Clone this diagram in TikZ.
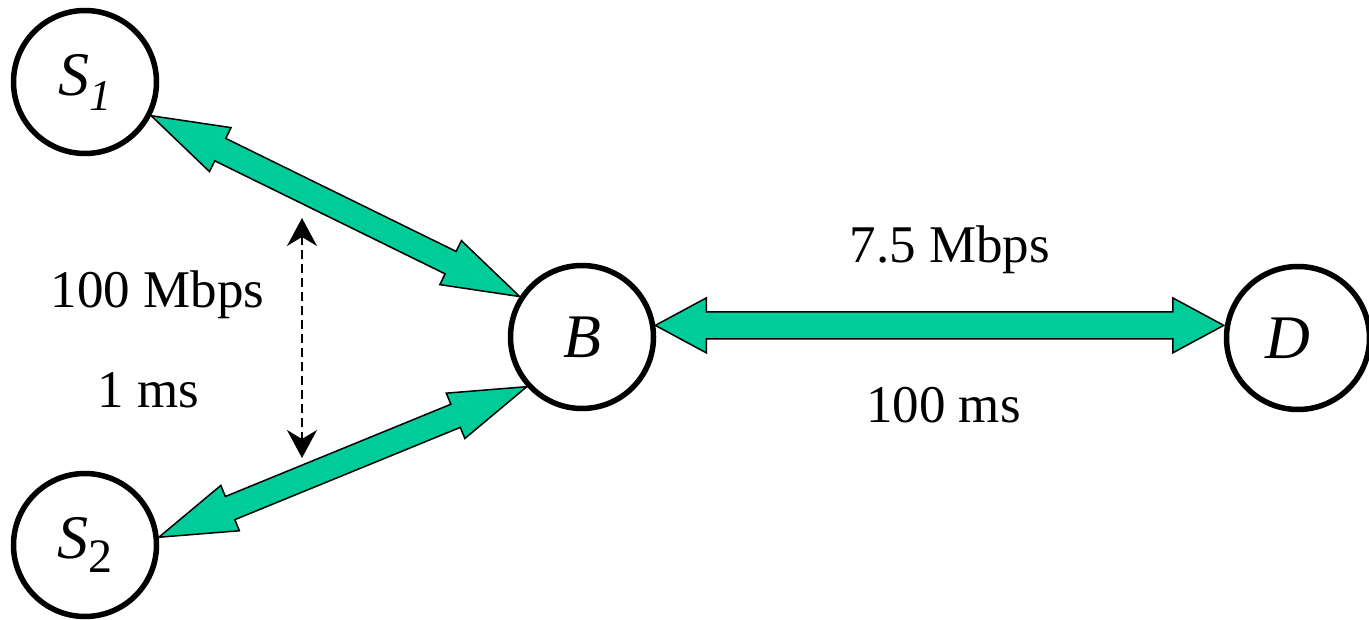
\documentclass[tikz,border=0pt]{standalone}
\usepackage{fontspec}
\setmainfont{Liberation Serif}
\usetikzlibrary{calc,arrows.meta}
\definecolor{linkgreen}{RGB}{0,204,153}
\tikzset{
  host/.style={circle, draw, fill=white, line width=5.5pt, minimum size=143pt,
    inner sep=0pt, font=\fontsize{62}{62}\selectfont\itshape},
  fatlink/.style={fill=linkgreen, draw=black, line width=1.5pt, line join=miter},
  spanarrow/.style={line width=2pt, dash pattern=on 9pt off 5pt,
    {Stealth[length=28pt,width=30pt,inset=9pt]}-{Stealth[length=28pt,width=30pt,inset=9pt]}},
  lbl/.style={anchor=base, inner sep=0pt, font=\fontsize{53}{53}\selectfont},
}
% double-headed block arrow: #1,#2 tips, #3 head length, #4 head half-width, #5 shaft half-width
\newcommand\linkarrow[5]{%
  \coordinate (ha) at ($(#1)!#3!(#2)$);
  \coordinate (hb) at ($(#2)!#3!(#1)$);
  \draw[fatlink] (#1) -- ($(ha)!#4!90:(#2)$) -- ($(ha)!#5!90:(#2)$)
    -- ($(hb)!#5!-90:(#1)$) -- ($(hb)!#4!-90:(#1)$) -- (#2)
    -- ($(hb)!#4!90:(#1)$) -- ($(hb)!#5!90:(#1)$)
    -- ($(ha)!#5!-90:(#2)$) -- ($(ha)!#4!-90:(#2)$) -- cycle;
}
\begin{document}
\begin{tikzpicture}[x=1pt,y=-1pt]
\useasboundingbox (0,0) rectangle (1369,620);

% hosts
\node[host] (S1) at (85,82) {S\raisebox{-15pt}{\fontsize{44}{44}\selectfont 1}};
\node[host] (S2) at (85,545) {S\raisebox{-14pt}{\fontsize{48}{48}\selectfont\upshape 2}};
\node[host] (B) at (582,337) {B};
\node[host] (D) at (1298,338) {D\hspace*{20pt}};

% link end points on the circles
\coordinate (s1b) at (S1.-27.6);
\coordinate (bs1) at (B.147.4);
\coordinate (s2b) at (S2.6);
\coordinate (bs2) at (B.222.6);
\coordinate (bd) at (B.9.4);
\coordinate (db) at (D.west |- bd);

% links
\linkarrow{s1b}{bs1}{77pt}{24.5pt}{12.5pt}
\linkarrow{s2b}{bs2}{77pt}{24.5pt}{12.5pt}
\linkarrow{bd}{db}{51pt}{27.5pt}{13.5pt}

% access link parameters
\coordinate (up) at (302,218);
\coordinate (dn) at (302,458);
\draw[spanarrow] (up) -- (dn);
\node[lbl] (acc1) at (157.5,308) {100 Mbps};
\node[lbl] (acc2) at (148.5,407) {1 ms};

% bottleneck link parameters
\node[lbl] (bot1) at (950,263) {7.5 Mbps};
\node[lbl] (bot2) at (943.5,423) {100 ms};
\end{tikzpicture}
\end{document}
